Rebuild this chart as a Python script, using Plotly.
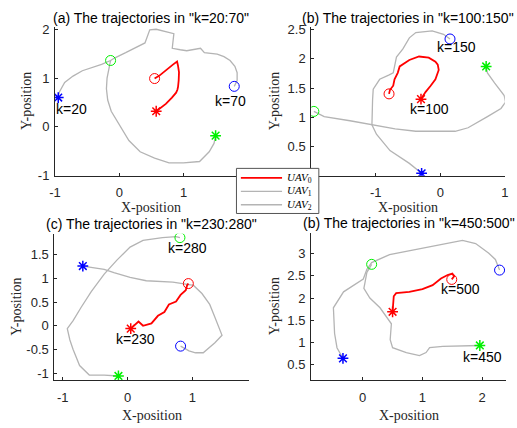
import plotly.graph_objects as go

# ---------------- data ----------------
# Panel (a) k=20:70
A_red_x = [0.575, 0.64, 0.725, 0.82, 0.885, 0.905, 0.915, 0.925, 0.93, 0.915, 0.9, 0.84, 0.775, 0.7, 0.625, 0.55]
A_red_y = [0.32, 0.39, 0.47, 0.6, 0.7, 0.76, 0.82, 0.95, 1.12, 1.25, 1.34, 1.28, 1.21, 1.13, 1.05, 0.99]
A_blue_x = [-0.95, -0.93, -0.85, -0.72, -0.575, -0.42, -0.275, -0.135, -0.075, 0.1, 0.25, 0.4, 0.475,
            0.575, 0.85, 0.825, 0.95, 1.05, 1.265, 1.325, 1.525, 1.63, 1.725, 1.8, 1.835, 1.835, 1.79]
A_blue_y = [0.6, 0.72, 0.91, 1.04, 1.15, 1.22, 1.28, 1.36, 1.41, 1.52, 1.62, 1.72, 1.99,
            2.0, 1.91, 1.61, 1.58, 1.56, 1.61, 1.52, 1.49, 1.44, 1.36, 1.24, 1.11, 0.95, 0.83]
A_green_x = [1.5, 1.475, 1.4, 1.25, 1.0, 0.775, 0.55, 0.325, 0.15, 0.025, -0.06, -0.125, -0.18,
             -0.2, -0.19, -0.15, -0.135]
A_green_y = [-0.18, -0.34, -0.51, -0.71, -0.74, -0.74, -0.64, -0.51, -0.28, -0.01, 0.15, 0.32, 0.55,
             0.78, 1.0, 1.25, 1.36]

# Panel (b) k=100:150
B_red_x = [-0.30, -0.23, -0.15, -0.076, -0.025, -0.04, -0.076, -0.18, -0.33, -0.48, -0.63, -0.66,
           -0.71, -0.73, -0.78, -0.795]
B_red_y = [1.31, 1.43, 1.54, 1.65, 1.81, 1.9, 1.95, 2.02, 2.04, 1.98, 1.87, 1.76, 1.65, 1.54, 1.47, 1.40]
B_blue_x = [-0.29, -0.48, -0.78, -0.99, -1.06, -1.06, -1.05, -1.04, -0.94, -0.8, -0.73, -0.68, -0.58,
            -0.48, -0.38, -0.127, 0.05, 0.15]
B_blue_y = [0.04, 0.21, 0.43, 0.71, 0.87, 1.09, 1.3, 1.48, 1.65, 1.72, 1.76, 2.03, 2.17, 2.36, 2.45,
            2.48, 2.42, 2.34]
B_green_x = [0.71, 0.73, 0.84, 0.99, 1.01, 0.94, 0.73, 0.43, 0.23, -0.08, -0.38, -0.7, -1.04, -1.4,
             -1.8, -1.92, -1.96]
B_green_y = [1.87, 1.76, 1.59, 1.37, 1.26, 1.15, 1.01, 0.82, 0.76, 0.76, 0.76, 0.8, 0.87, 0.94, 1.01,
             1.07, 1.10]

# Panel (c) k=230:280
C_red_x = [0.05, 0.12, 0.17, 0.24, 0.37, 0.47, 0.57, 0.64, 0.75, 0.82, 0.9, 0.92, 0.94]
C_red_y = [-0.06, 0.04, 0.09, 0.0, 0.05, 0.21, 0.29, 0.45, 0.51, 0.65, 0.75, 0.85, 0.89]
C_blue_x = [-0.69, -0.51, -0.36, -0.21, 0.04, 0.29, 0.70, 0.85, 1.02, 1.15, 1.27, 1.35, 1.46, 1.35,
            1.17, 1.05, 0.95, 0.82]
C_blue_y = [1.26, 1.22, 1.19, 1.12, 1.02, 0.95, 0.92, 0.89, 0.85, 0.68, 0.45, 0.18, -0.20, -0.36,
            -0.57, -0.57, -0.53, -0.43]
C_green_x = [-0.14, -0.36, -0.59, -0.74, -0.84, -0.89, -0.93, -0.84, -0.72, -0.56, -0.36, -0.16, 0.04,
             0.24, 0.54, 0.75, 0.81]
C_green_y = [-1.06, -1.04, -1.04, -0.84, -0.50, -0.30, -0.06, 0.11, 0.38, 0.72, 1.09, 1.39, 1.66,
             1.80, 1.86, 1.88, 1.86]

# Panel (d) k=450:500
D_red_x = [0.50, 0.51, 0.52, 0.56, 0.78, 1.0, 1.17, 1.31, 1.42, 1.50, 1.53, 1.49]
D_red_y = [1.69, 1.93, 2.04, 2.11, 2.14, 2.20, 2.29, 2.44, 2.52, 2.55, 2.49, 2.42]
D_blue_x = [-0.33, -0.43, -0.47, -0.49, -0.32, -0.10, 0.01, 0.07, 0.15, 0.45, 0.73, 1.28, 1.67, 1.89,
            2.11, 2.22, 2.29]
D_blue_y = [0.64, 0.88, 1.20, 1.78, 2.14, 2.33, 2.43, 2.65, 2.80, 2.98, 3.05, 3.20, 3.30, 3.23, 3.01,
            2.87, 2.63]
D_green_x = [1.96, 1.56, 1.34, 1.12, 1.06, 0.95, 0.73, 0.50, 0.46, 0.48, 0.29, 0.12, 0.02, 0.04, 0.07, 0.15]
D_green_y = [0.93, 0.91, 0.91, 0.88, 0.77, 0.70, 0.77, 0.88, 1.06, 1.42, 1.78, 2.0, 2.22, 2.36, 2.58, 2.76]

titles = ['(a) The trajectories in "k=20:70"', '(b) The trajectories in "k=100:150"',
          '(c) The trajectories in "k=230:280"', '(b) The trajectories in "k=450:500"']

# tick labels hidden behind the legend box in the reference are left out
A_xticks = [-1, 0, 1]; A_yticks = [-1, 0, 1, 2]
B_xticks = [-1, 0, 1]; B_yticks = [0.5, 1, 1.5, 2, 2.5]
C_xticks = [-1, 0, 1]; C_yticks = [-1, -0.5, 0, 0.5, 1, 1.5]
D_xticks = [0, 1, 2]; D_yticks = [0.5, 1, 1.5, 2, 2.5, 3]

A_labels = [("k=20", -0.74, 0.37), ("k=70", 1.735, 0.53)]
B_labels = [("k=150", 0.25, 2.2), ("k=100", -0.17, 1.14)]
C_labels = [("k=280", 0.92, 1.64), ("k=230", 0.12, -0.28)]
D_labels = [("k=500", 1.64, 2.2), ("k=450", 2.0, 0.66)]

legend_names = ["<i>UAV</i><sub>0</sub>", "<i>UAV</i><sub>1</sub>", "<i>UAV</i><sub>2</sub>"]

# ---------------- layout ----------------
W, H = 517, 428
RED, BLUE, GREEN, GRAY = "#ff0000", "#0000ff", "#00f000", "#b4b4b4"
AX = "#262626"
SANS = "Arial, Liberation Sans, sans-serif"
SERIF = "Times New Roman, Liberation Serif, serif"


def fmt(v):
    return "%g" % v


def px(x):
    return x / W


def py(y):
    return 1 - y / H


panels = [
    dict(red=(A_red_x, A_red_y), blue=(A_blue_x, A_blue_y), green=(A_green_x, A_green_y),
         xr=[-1, 2], yr=[-1, 2.04], box=(50, 246.5, 23, 176), xt=A_xticks, yt=A_yticks, lab=A_labels,
         ylabx=21, xlab_off=23),
    dict(red=(B_red_x, B_red_y), blue=(B_blue_x, B_blue_y), green=(B_green_x, B_green_y),
         xr=[-2, 1], yr=[0, 2.54], box=(311.3, 508.7, 23, 176), xt=B_xticks, yt=B_yticks, lab=B_labels,
         ylabx=274, xlab_off=23),
    dict(red=(C_red_x, C_red_y), blue=(C_blue_x, C_blue_y), green=(C_green_x, C_green_y),
         xr=[-1.13, 1.88], yr=[-1.15, 1.94], box=(49.3, 248, 236, 387), xt=C_xticks, yt=C_yticks,
         lab=C_labels, ylabx=10, xlab_off=27),
    dict(red=(D_red_x, D_red_y), blue=(D_blue_x, D_blue_y), green=(D_green_x, D_green_y),
         xr=[-0.865, 2.40], yr=[0.146, 3.47], box=(311, 510, 235, 387), xt=D_xticks, yt=D_yticks,
         lab=D_labels, ylabx=274, xlab_off=27),
]

fig = go.Figure()
annotations = []
shapes = []
layout_axes = {}

for i, p in enumerate(panels):
    n = "" if i == 0 else str(i + 1)
    xa, ya = "x" + n, "y" + n
    l, r, t, b = p["box"]
    for (xs, ys) in (p["blue"], p["green"]):
        fig.add_trace(go.Scatter(x=xs, y=ys, mode="lines", line=dict(color=GRAY, width=1.3),
                                 xaxis=xa, yaxis=ya, showlegend=False, hoverinfo="skip"))
    xs, ys = p["red"]
    fig.add_trace(go.Scatter(x=xs, y=ys, mode="lines", line=dict(color=RED, width=1.8),
                             xaxis=xa, yaxis=ya, showlegend=False, hoverinfo="skip"))
    for (xs, ys), c in ((p["red"], RED), (p["blue"], BLUE), (p["green"], GREEN)):
        fig.add_trace(go.Scatter(x=[xs[0]], y=[ys[0]], mode="markers",
                                 marker=dict(symbol="asterisk-open", size=9, color=c,
                                             line=dict(color=c, width=1.5)),
                                 xaxis=xa, yaxis=ya, showlegend=False, hoverinfo="skip"))
        fig.add_trace(go.Scatter(x=[xs[-1]], y=[ys[-1]], mode="markers",
                                 marker=dict(symbol="circle-open", size=10, color=c,
                                             line=dict(color=c, width=1)),
                                 xaxis=xa, yaxis=ya, showlegend=False, hoverinfo="skip"))
    common = dict(showline=True, linecolor=AX, linewidth=1, ticks="inside", ticklen=3,
                  tickcolor=AX, showgrid=False, zeroline=False, mirror=False,
                  tickfont=dict(family=SANS, size=13, color=AX))
    layout_axes["xaxis" + n] = dict(common, domain=[px(l), px(r)], range=p["xr"], anchor=ya,
                                    tickvals=p["xt"], ticktext=[fmt(v) for v in p["xt"]],
                                    ticklabelstandoff=5)
    layout_axes["yaxis" + n] = dict(common, domain=[py(b), py(t)], range=p["yr"], anchor=xa,
                                    tickvals=p["yt"], ticktext=[fmt(v) for v in p["yt"]],
                                    ticklabelstandoff=2)
    annotations.append(dict(text=titles[i], x=px((l + r) / 2), y=py(t - 10), xref="paper", yref="paper",
                            xanchor="center", yanchor="middle", showarrow=False,
                            font=dict(family=SANS, size=14, color="#000")))
    annotations.append(dict(text="X-position", x=px((l + r) / 2), y=py(b + p["xlab_off"]), xref="paper",
                            yref="paper", xanchor="center", yanchor="top", showarrow=False,
                            font=dict(family=SERIF, size=14, color=AX)))
    annotations.append(dict(text="Y-position", x=px(p["ylabx"]), y=py((t + b) / 2), xref="paper",
                            yref="paper", xanchor="center", yanchor="middle", showarrow=False,
                            textangle=-90, font=dict(family=SERIF, size=14, color=AX)))
    for txt, tx, ty in p["lab"]:
        annotations.append(dict(text=txt, x=tx, y=ty, xref=xa, yref=ya, showarrow=False,
                                xanchor="center", yanchor="middle",
                                font=dict(family=SANS, size=14, color="#000")))

# legend box (drawn manually to match the compact MATLAB legend)
lx0, lx1, ly0, ly1 = 235, 319, 168.5, 215
shapes.append(dict(type="rect", xref="paper", yref="paper", x0=px(lx0), x1=px(lx1), y0=py(ly1),
                   y1=py(ly0), fillcolor="white", line=dict(color="#555", width=1), layer="above"))
rows = [178.3, 192.3, 206]
for name, yy, c in zip(legend_names, rows, (RED, GRAY, GRAY)):
    shapes.append(dict(type="line", xref="paper", yref="paper", x0=px(239.5), x1=px(281.5),
                       y0=py(yy), y1=py(yy), line=dict(color=c, width=1.8 if c == RED else 1.3),
                       layer="above"))
    annotations.append(dict(text=name, x=px(284), y=py(yy), xref="paper", yref="paper",
                            xanchor="left", yanchor="middle", showarrow=False,
                            font=dict(family=SERIF, size=11, color="#000")))

fig.update_layout(width=W, height=H, margin=dict(l=0, r=0, t=0, b=0), paper_bgcolor="white",
                  plot_bgcolor="white", showlegend=False, annotations=annotations, shapes=shapes,
                  **layout_axes)
fig.write_html("out.html", config={"displayModeBar": False},
               post_script="document.body.style.margin='0';")
